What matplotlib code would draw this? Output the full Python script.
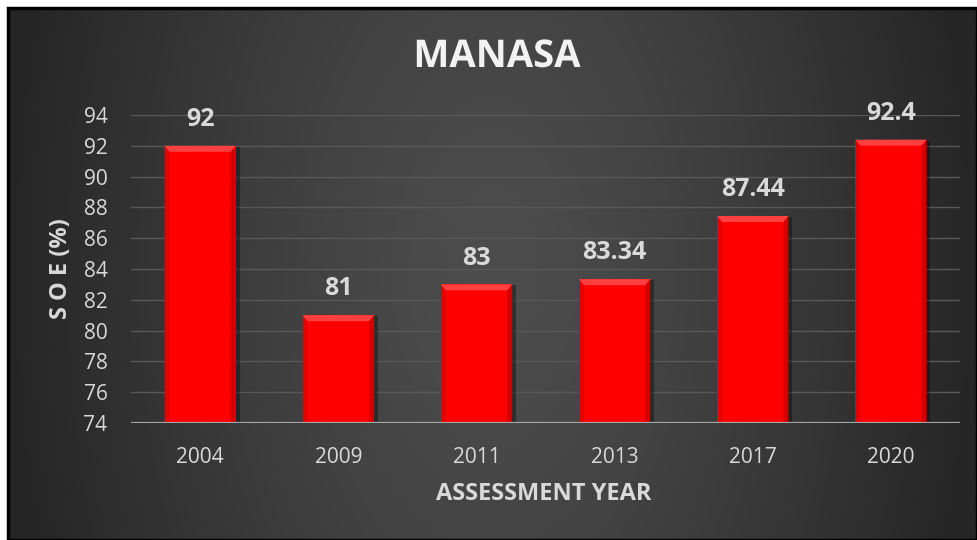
import numpy as np
import matplotlib
matplotlib.use("Agg")
import matplotlib.pyplot as plt
from matplotlib.patches import Polygon, Rectangle
import matplotlib.patheffects as pe

years = ["2004", "2009", "2011", "2013", "2017", "2020"]
soe = [92, 81, 83, 83.34, 87.44, 92.4]
value_labels = ["92", "81", "83", "83.34", "87.44", "92.4"]
y_ticks = list(range(74, 95, 2))

W, H = 977, 540
plt.rcParams["font.family"] = ["Open Sans", "DejaVu Sans"]
fig = plt.figure(figsize=(W / 100, H / 100), dpi=100, facecolor="white")

# dark chart-area background with a soft centre glow
bg = fig.add_axes([8 / W, 0, (W - 8) / W, (H - 8) / H])
bg.set_axis_off()
nx, ny = 400, 220
xx, yy = np.meshgrid(np.linspace(0, 1, nx), np.linspace(0, 1, ny))
d = np.sqrt(((xx - 0.5) / 0.5) ** 2 + ((yy - 0.5) / 1.6) ** 2)
d = np.clip(d, 0, 1)
lev = (0x4d - (0x4d - 0x26) * d ** 1.3) / 255.0
img = np.dstack([lev, lev, lev])
bg.imshow(img, extent=[0, 1, 0, 1], aspect="auto", origin="lower")
bg.set_xlim(0, 1)
bg.set_ylim(0, 1)
bg.add_patch(Rectangle((0, 0), 1, 1, transform=bg.transAxes, fill=False,
                       edgecolor="black", linewidth=2.5, clip_on=False))

# plot area in pixel coordinates
px0, px1 = 131, 960
py_top, py_bot = 115, 423
ax = fig.add_axes([px0 / W, (H - py_bot) / H, (px1 - px0) / W, (py_bot - py_top) / H])
ax.set_facecolor("none")
ax.set_xlim(-0.5, len(years) - 0.5)
ax.set_ylim(74, 94)

xu = (len(years)) / (px1 - px0)      # data units per pixel (x)
yu = 20 / (py_bot - py_top)          # data units per pixel (y)

for t in y_ticks[1:]:
    ax.axhline(t, color="#585858", linewidth=1.0, zorder=1)
ax.axhline(74, color="#a6a6a6", linewidth=1.6, zorder=5)

bw = 0.515
bx = 5 * xu
by = 6 * yu
for i, v in enumerate(soe):
    x0, x1 = i - bw / 2, i + bw / 2
    # drop shadow
    ax.add_patch(Rectangle((x0 + 2 * xu, 74), bw + 2 * xu, v - 74 - 1 * yu,
                           facecolor="black", alpha=0.35, edgecolor="none", zorder=2))
    ax.add_patch(Rectangle((x0, 74), bw, v - 74, facecolor="#ff0000",
                           edgecolor="none", zorder=3))
    ax.add_patch(Polygon([(x0, 74), (x0, v), (x0 + bx, v - by), (x0 + bx, 74)],
                         closed=True, facecolor="#e60000", edgecolor="none", zorder=4))
    ax.add_patch(Polygon([(x1, 74), (x1, v), (x1 - bx, v - by), (x1 - bx, 74)],
                         closed=True, facecolor="#d20000", edgecolor="none", zorder=4))
    ax.add_patch(Polygon([(x0, v), (x1, v), (x1 - bx, v - by), (x0 + bx, v - by)],
                         closed=True, facecolor="#ff4040", edgecolor="none", zorder=4))
    ax.annotate(value_labels[i], (i, v), xytext=(0, 19), textcoords="offset points",
                ha="center", va="center", fontsize=18, fontweight="bold",
                color="#d9d9d9", zorder=6)

ax.set_xticks(range(len(years)))
ax.set_xticklabels(years)
ax.set_yticks(y_ticks)
ax.tick_params(axis="x", length=0, pad=17, labelsize=15, labelcolor="#d9d9d9")
ax.tick_params(axis="y", length=0, pad=17, labelsize=15, labelcolor="#d9d9d9")
for s in ax.spines.values():
    s.set_visible(False)

fig.text(497 / W, 1 - 57 / H, "MANASA", ha="center", va="center", fontsize=27.5,
         fontweight="bold", color="#f2f2f2",
         path_effects=[pe.SimplePatchShadow(offset=(1.5, -1.5), alpha=0.6), pe.Normal()])
fig.text(544 / W, 1 - 494 / H, "ASSESSMENT YEAR", ha="center", va="center",
         fontsize=17, fontweight="bold", color="#d9d9d9")
fig.text(61 / W, 1 - 269 / H, "S O E (%)", ha="center", va="center", rotation=90,
         fontsize=17, fontweight="bold", color="#d9d9d9")

fig.savefig("out.png", dpi=100, facecolor="white")
